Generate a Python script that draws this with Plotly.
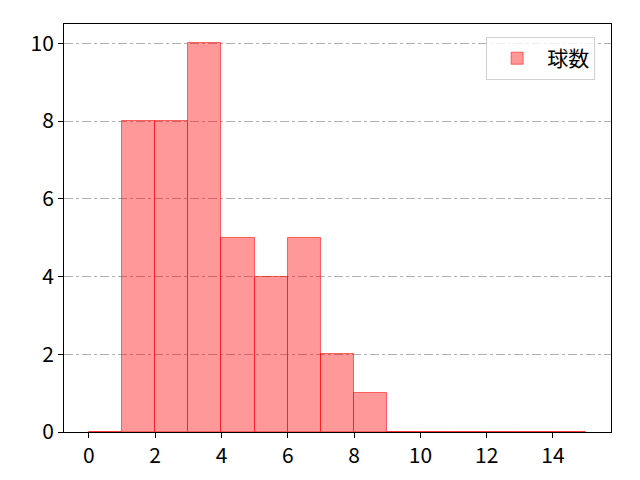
import plotly.graph_objects as go

bin_left = list(range(0, 15))
counts = [0, 8, 8, 10, 5, 4, 5, 2, 1, 0, 0, 0, 0, 0, 0]
x_ticks = [0, 2, 4, 6, 8, 10, 12, 14]
y_ticks = [0, 2, 4, 6, 8, 10]
series_name = "球数"

centers = [b + 0.5 for b in bin_left]

fig = go.Figure()
fig.add_trace(go.Bar(
    x=centers, y=counts, width=1, name=series_name,
    marker=dict(color="rgba(255,0,0,0.4)", line=dict(color="rgba(255,0,0,0.55)", width=1)),
    showlegend=True,
))

font = dict(family="Noto Sans CJK JP", size=21, color="black")
fig.update_layout(
    width=640, height=480,
    margin=dict(l=56, r=37, t=16, b=56),
    plot_bgcolor="white", paper_bgcolor="white",
    font=font,
    bargap=0,
    xaxis=dict(range=[-0.75, 15.75], tickvals=x_ticks, showgrid=False, zeroline=False,
               showline=True, linecolor="black", linewidth=1, mirror=True,
               ticks="outside", ticklen=5, tickcolor="black"),
    yaxis=dict(range=[0, 10.5], tickvals=y_ticks, showgrid=True, gridcolor="#b0b0b0",
               griddash="dashdot", gridwidth=1, zeroline=False,
               showline=True, linecolor="black", linewidth=1, mirror=True,
               ticks="outside", ticklen=5, tickcolor="black"),
    legend=dict(x=0.971, y=0.968, xanchor="right", yanchor="top",
                bgcolor="rgba(255,255,255,0.8)", bordercolor="#d0d0d0", borderwidth=1,
                itemwidth=50, entrywidth=100,
                font=dict(family="Noto Sans CJK JP", size=21)),
)
fig.write_html("out.html")
